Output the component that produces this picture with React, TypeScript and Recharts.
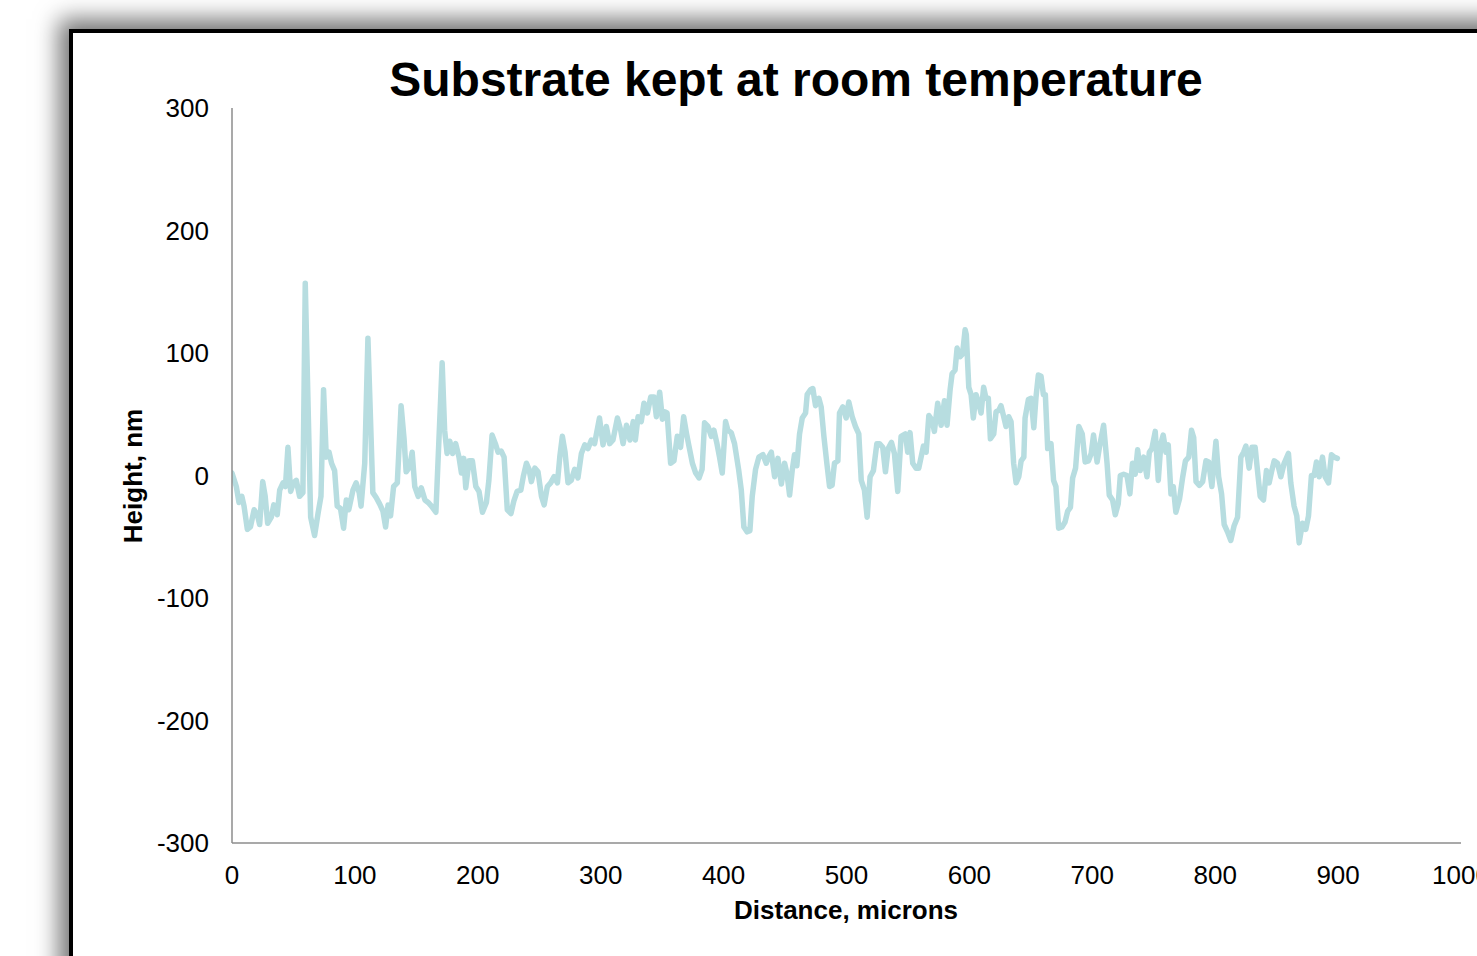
import React from 'react';
import { LineChart, Line, XAxis, YAxis } from 'recharts';

const distance: number[] = [
  0, 3.5, 5.7, 8, 9.8, 12.5, 15, 18, 20.6, 22.5, 25, 27, 29, 32, 34, 36.8, 38.8, 41.5, 43.5, 45.5,
  47.7, 50, 52.3, 55, 57.7, 59.6, 64, 67.2, 70, 72.4, 74.5, 76.7, 79, 81, 83.5, 85.6, 88.3, 90.8, 93, 95,
  98.4, 101, 103.5, 105, 108, 110.6, 114.6, 117.3, 120, 122.8, 125, 127, 129, 131.5, 134.5, 137.6, 140, 141.7, 144.5, 146.6,
  148.7, 151.5, 154, 157, 159.6, 162.3, 165.9, 171, 173, 175, 177.2, 179.5, 182, 184.7, 186.7, 188.6, 190.2, 192.9, 195.6, 198.4,
  201, 203.8, 207, 209, 211.6, 214.3, 216.5, 219, 221.4, 224, 227, 229.3, 232, 235, 237, 239.6, 241.7, 243.6, 246.4, 249,
  251.8, 254, 256.6, 259.3, 262, 264.8, 266.7, 268.8, 271, 273.4, 276, 278.8, 281.5, 284.3, 287, 289.7, 292.4, 295, 299, 301.9,
  304.6, 307.3, 310, 313.6, 316.3, 318.2, 321, 323.8, 326.5, 328.2, 330.4, 333, 335.2, 338, 340.7, 343.4, 345.3, 348, 350.2, 352,
  354, 356.9, 359.6, 362.3, 365, 367.5, 369.7, 371.8, 374.6, 377.3, 380, 382.5, 384.5, 387.3, 390, 392.1, 394.6, 396.7, 398.9, 401.6,
  403.5, 406.2, 408.9, 412.2, 414.4, 416.5, 419.2, 421.4, 423.3, 426, 428.7, 432, 434.7, 436.6, 438.8, 441.5, 444.2, 447, 449.6, 451.5,
  453.7, 455.8, 457.7, 459.6, 461.8, 464, 466.7, 468, 470.7, 472.6, 474.8, 477.5, 479.4, 481.6, 484, 486.2, 488.3, 490.2, 493, 494.3,
  497, 499.7, 501.9, 504.6, 507.3, 510, 512, 514.6, 516.8, 519.2, 521.9, 524.7, 526.8, 529.5, 531.7, 533.9, 536.6, 539, 541.7, 544.4,
  547.9, 549.8, 551.7, 553.9, 556.6, 558.8, 560.7, 562.6, 564.8, 567, 569.7, 571.5, 574.2, 577, 579.7, 581.8, 584.3, 585.9, 588.3, 590,
  592.5, 594.4, 596.5, 597.5, 599.5, 601.4, 603.2, 605.4, 607.6, 609.5, 611.6, 613.5, 615.4, 617.1, 619.8, 621.7, 623.8, 625.7, 627.9, 629.8,
  632, 633.9, 636, 638, 640.2, 642.1, 644.3, 645.3, 648, 650.2, 652.4, 654.2, 656.1, 658.3, 660.2, 661.8, 663.7, 666.4, 668.5, 670.4,
  672.6, 675.3, 677.8, 680, 682.2, 684, 686.4, 689, 691.8, 694.2, 696.9, 699.1, 701, 703.9, 705.8, 709.2, 712, 713.8, 716.5, 718.7,
  721.1, 722.8, 725.5, 728.2, 730.6, 732.7, 734.9, 736.9, 739, 741.8, 744.5, 746.4, 748.5, 751.2, 753.7, 755.8, 757.7, 759.9, 761.8, 764,
  765.9, 768, 771, 773.6, 775.8, 778.5, 780.7, 782.5, 784.4, 787.1, 789.8, 792.5, 794.7, 797.3, 800.6, 802.8, 805.2, 807.3, 810, 812.7,
  815.4, 818.2, 820.9, 823.1, 825, 827.6, 829.9, 832.5, 834.4, 836.6, 839.3, 841.7, 843.9, 845.8, 848, 850.7, 853.4, 856.1, 859.6, 861.5,
  864.2, 866.4, 868.3, 871, 873.7, 875.9, 878.3, 880.5, 882.4, 884.6, 887.3, 889.4, 892.2, 894.6, 896.8, 899.4,
];

const height: number[] = [
  2, -9, -22, -17, -25, -44, -42, -28, -32, -40, -5, -17, -39, -34, -24, -32, -12, -6, -9, 23,
  -13, -6, -4, -17, -14, 157, -34, -49, -31, -17, 70, 15, 19, 10, 4, -25, -27, -43, -20, -28,
  -12, -6, -14, -25, 10, 112, -14, -18, -23, -29, -42, -24, -33, -9, -6, 57, 30, 3, 7, 19,
  -9, -17, -10, -20, -22, -25, -30, 92, 37, 18, 28, 18, 26, 15, 2, 14, -10, 12, 12, -9,
  -13, -30, -22, -4, 33, 26, 19, 20, 15, -28, -31, -21, -13, -12, -1, 10, 5, -5, 6, 3,
  -17, -24, -9, -6, -1, -6, 15, 32, 19, -6, -4, 5, -2, 18, 25, 22, 29, 26, 47, 25,
  40, 26, 29, 47, 37, 26, 41, 29, 44, 29, 48, 44, 59, 51, 64, 64, 48, 68, 46, 52,
  51, 10, 12, 32, 23, 48, 35, 24, 10, 2, -2, 5, 43, 40, 32, 37, 26, 15, 2, 44,
  37, 35, 26, 5, -12, -42, -46, -45, -17, 5, 15, 17, 10, 15, 19, -1, 14, -7, 10, 2,
  -16, 4, 17, 8, 34, 47, 51, 66, 70, 71, 57, 63, 56, 32, 10, -9, -8, 10, 12, 51,
  56, 47, 60, 48, 40, 34, -4, -12, -34, -1, 4, 26, 26, 23, 3, 22, 27, 18, -13, 32,
  34, 19, 35, 10, 6, 6, 15, 24, 19, 49, 45, 36, 59, 41, 61, 41, 70, 83, 86, 104,
  97, 99, 119, 115, 72, 66, 47, 66, 59, 51, 72, 63, 63, 30, 34, 52, 53, 57, 48, 40,
  48, 44, 10, -6, -1, 12, 15, 47, 62, 63, 39, 64, 82, 81, 66, 66, 22, 26, -4, -9,
  -43, -42, -38, -29, -26, -2, 6, 40, 34, 11, 12, 18, 33, 11, 23, 41, 10, -16, -20, -32,
  -23, 0, 1, 0, -15, 10, 1, 21, 4, 15, -1, 19, 22, 36, -4, 26, 33, 19, 25, -15,
  -9, -30, -19, -1, 12, 15, 37, 31, -5, -8, -5, 12, 11, -9, 28, -1, -15, -40, -46, -53,
  -41, -34, 15, 19, 24, 6, 23, 23, 4, -17, -20, 4, -6, 3, 12, 10, -1, 10, 18, -6,
  -25, -33, -55, -39, -44, -33, 0, 0, 11, -1, 15, -1, -6, 17, 15, 14,
];

const xTicks: number[] = [0, 100, 200, 300, 400, 500, 600, 700, 800, 900, 1000];
const yTicks: number[] = [-300, -200, -100, 0, 100, 200, 300];

const data = distance.map((d, i) => ({ d, h: height[i] }));

const FONT = "'Liberation Sans', Arial, Helvetica, sans-serif";

export default function App() {
  return (
    <div
      style={{
        position: 'fixed',
        left: 0,
        top: 0,
        width: 1477,
        height: 956,
        overflow: 'hidden',
        background: '#fff',
        fontFamily: FONT,
      }}
    >
      <div
        style={{
          position: 'absolute',
          left: 69,
          top: 29,
          width: 1520,
          height: 1000,
          border: '4px solid #000',
          boxShadow: '-4px -4px 22px 6px rgba(0,0,0,0.55)',
          background: '#fff',
        }}
      />
      <div style={{ position: 'absolute', left: 0, top: 0 }}>
        <LineChart
          width={1477}
          height={956}
          data={data}
          margin={{ top: 108, right: 16, bottom: 53, left: 152 }}
        >
          <XAxis
            dataKey="d"
            type="number"
            domain={[0, 1000]}
            ticks={xTicks}
            interval={0}
            height={60}
            tickLine={false}
            tickSize={0}
            tickMargin={23}
            axisLine={{ stroke: '#8c8c8c', strokeWidth: 1.5 }}
            tick={{ fill: '#000', fontSize: 26, fontFamily: FONT }}
            allowDataOverflow
          />
          <YAxis
            type="number"
            domain={[-300, 300]}
            ticks={yTicks}
            interval={0}
            width={80}
            tickLine={false}
            tickSize={0}
            tickMargin={23}
            axisLine={{ stroke: '#8c8c8c', strokeWidth: 1.5 }}
            tick={{ fill: '#000', fontSize: 26, fontFamily: FONT }}
          />
          <Line
            dataKey="h"
            type="linear"
            stroke="#b7dde0"
            strokeWidth={5.5}
            strokeLinejoin="round"
            strokeLinecap="round"
            dot={false}
            activeDot={false}
            isAnimationActive={false}
          />
        </LineChart>
      </div>
      <div
        style={{
          position: 'absolute',
          left: 796,
          top: 56,
          transform: 'translateX(-50%)',
          fontSize: 48,
          lineHeight: '48px',
          fontWeight: 700,
          whiteSpace: 'nowrap',
          color: '#000',
        }}
      >
        Substrate kept at room temperature
      </div>
      <div
        style={{
          position: 'absolute',
          left: 846,
          top: 897,
          transform: 'translateX(-50%)',
          fontSize: 26,
          lineHeight: '26px',
          fontWeight: 700,
          whiteSpace: 'nowrap',
          color: '#000',
        }}
      >
        Distance, microns
      </div>
      <div
        style={{
          position: 'absolute',
          left: 133,
          top: 476,
          transform: 'translate(-50%, -50%) rotate(-90deg)',
          fontSize: 26,
          lineHeight: '26px',
          fontWeight: 700,
          whiteSpace: 'nowrap',
          color: '#000',
        }}
      >
        Height, nm
      </div>
    </div>
  );
}
